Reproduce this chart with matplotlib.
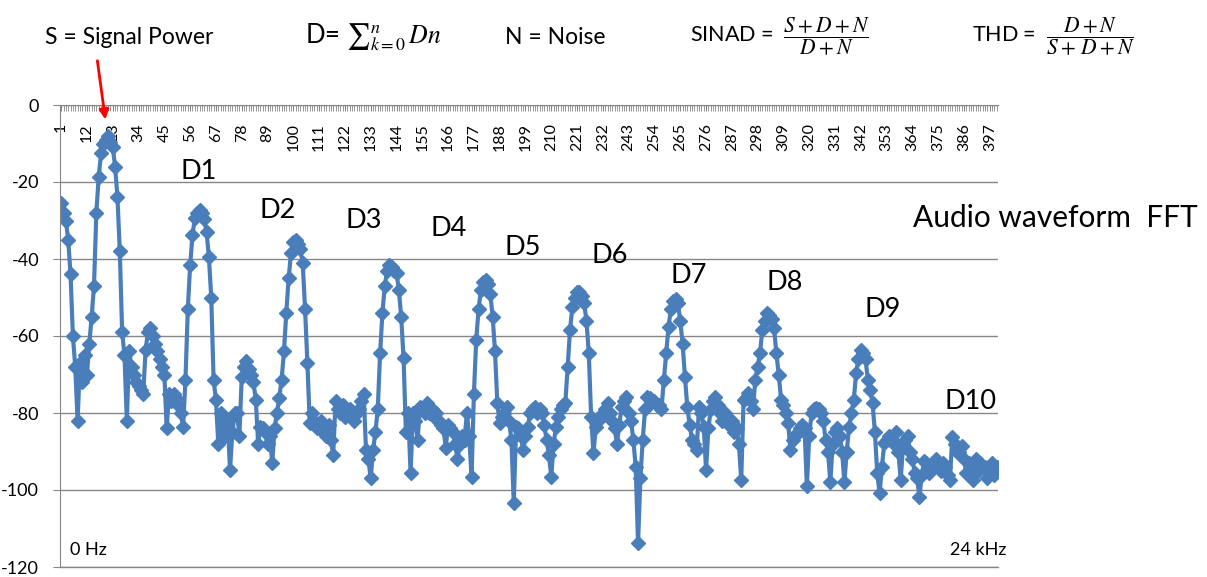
import matplotlib.pyplot as plt
from matplotlib.ticker import FixedLocator, MultipleLocator

plt.rcParams['font.family'] = ['Lato', 'DejaVu Sans']
plt.rcParams['axes.unicode_minus'] = False
plt.rcParams['mathtext.fontset'] = 'stix'

# FFT bins (category axis) and level in dB
bins = list(range(1, 401))
level_db = [
    -25.5, -28, -30, -35, -44, -60, -68, -82, -67, -72, -65, -70, -62, -55, -47, -28, -18.7, -12.5, -10, -9,          # 1-20
    -8, -9.5, -11, -16, -24, -38, -59, -65, -82, -64, -68, -70, -72, -73, -74, -75, -63.6, -59, -58, -60,            # 21-40
    -62, -64, -66, -68, -70, -84, -75, -77, -75, -76, -78, -80, -83.6, -71.4, -53, -41.6, -33.8, -29.4, -28, -27.3,  # 41-60
    -28, -29.5, -33, -39.5, -50, -71.4, -76.6, -88, -80, -84, -86, -82, -94.8, -85, -80, -80, -86, -70.6, -68, -66.5,  # 61-80
    -68.5, -70, -72, -76.6, -88, -83.6, -84, -85, -88, -86, -93, -84, -80, -76, -71.4, -64, -54, -45, -38.5, -35.5,  # 81-100
    -35, -36, -37.5, -41, -53, -67, -82.6, -80, -82, -84, -84, -82, -85, -86, -83, -87, -91, -77, -79, -80,          # 101-120
    -78, -81, -80, -79, -80, -82, -80, -79, -77, -75, -89.6, -92, -97, -89.6, -85, -79, -64.5, -54, -47, -43,        # 121-140
    -41.5, -42, -43, -43.7, -48, -55, -65.7, -85, -80, -95.6, -80, -82, -87, -78.4, -79, -80, -77.4, -80, -79, -81,  # 141-160
    -80, -82, -83, -84, -89, -83, -84, -85, -88, -92, -88, -86, -87, -80, -86, -96.6, -75, -61, -53, -48,            # 161-180
    -46, -45.5, -46.5, -49, -55, -64, -77.5, -82.6, -81, -80, -78.4, -82, -87, -103.5, -83.6, -84, -86, -89.6, -86, -83.6,  # 181-200
    -80, -79, -78.4, -80, -79, -80, -83, -87, -91, -96.6, -88, -83.6, -81, -79, -78, -77.4, -68, -58.4, -52.4, -50,  # 201-220
    -48.7, -48.5, -49.5, -51.5, -56, -64.5, -81, -90.5, -83.6, -82, -81, -80, -79, -77.5, -80, -82, -84, -88, -83, -78.4,  # 221-240
    -77, -75.8, -80, -82, -87, -94, -113.8, -97, -87, -79, -75.8, -76, -77, -77, -78, -78, -79, -71.4, -64.5, -57.6,  # 241-260
    -53, -51, -50.5, -51.5, -56, -62, -70.6, -78.4, -83, -87, -88, -89.6, -78.4, -80, -83.6, -94.8, -84, -79, -77, -75.8,  # 261-280
    -78, -80, -82, -80, -81, -83, -82, -85, -84, -88, -97.4, -76.6, -76, -74.8, -77, -79, -71.4, -68, -64.5, -58.4,  # 281-300
    -56, -54, -54.5, -55.5, -58, -64.5, -70, -76.6, -78, -80, -82.6, -89.6, -87, -86, -85, -84, -83, -84, -99, -86,  # 301-320
    -80, -79, -78.7, -79, -80, -82, -87, -90, -98, -88, -85, -84, -86, -90, -98, -90, -83.6, -80, -76.6, -69.6,      # 321-340
    -66, -63.6, -64.5, -66, -71.4, -74, -77.4, -85, -95.6, -100.8, -94, -87.8, -87, -86, -87, -88, -85, -90, -97.4, -88.6,  # 341-360
    -87, -86, -90, -92, -95.6, -97, -101.8, -96, -92.5, -93, -95.6, -94, -93, -92, -94, -95, -93, -94, -96, -97.4,   # 361-380
    -86.2, -88, -90, -90, -88.6, -92, -95.6, -93, -94, -97.4, -92, -95, -93, -94, -94, -97, -95, -93, -96, -94,      # 381-400
]
tick_bins = list(range(1, 401, 11))
y_ticks = list(range(-120, 1, 20))
harmonic_labels = ['D1', 'D2', 'D3', 'D4', 'D5', 'D6', 'D7', 'D8', 'D9', 'D10']

# label placement for the harmonic names (bin, dB)
harmonic_pos = [(59.5, -17.4), (93.3, -27.3), (130, -30.1), (166.3, -32), (198, -37),
                (234.7, -39), (268.8, -44.4), (309.4, -46.2), (351.3, -53), (388.9, -76.9)]

W, H = 1207, 577
fig = plt.figure(figsize=(W / 100, H / 100), dpi=100)
ax = fig.add_axes([60 / W, 10 / H, 938 / W, 462 / H])

blue = '#4A7EBB'
grey = '#868686'
ax.plot(bins, level_db, color=blue, lw=3, marker='D', ms=7.5, mfc=blue, mec=blue)

ax.set_xlim(0.5, 400.5)
ax.set_ylim(-120, 0)
ax.set_yticks(y_ticks)
ax.yaxis.grid(True, color=grey, lw=1)
ax.set_axisbelow(True)
ax.axhline(-120, color=grey, lw=1, clip_on=False)

# category axis crosses at 0, i.e. along the top of the plot
ax.spines['bottom'].set_position(('data', 0))
ax.spines['top'].set_visible(False)
ax.spines['right'].set_visible(False)
ax.spines['left'].set_color(grey)
ax.spines['bottom'].set_color(grey)

ax.xaxis.set_major_locator(FixedLocator(tick_bins))
ax.xaxis.set_minor_locator(MultipleLocator(1))
ax.set_xticklabels([str(b) for b in tick_bins], rotation=90)
ax.tick_params(axis='x', which='both', direction='out', length=4, color=grey, labelsize=11.5, pad=9)
ax.tick_params(axis='y', direction='out', length=5, color=grey, labelsize=13, pad=10)

for lab, (xb, yd) in zip(harmonic_labels, harmonic_pos):
    ax.text(xb, yd, lab, ha='center', va='center', fontsize=19.5)

ax.text(10 / 938, 17 / 462, '0 Hz', transform=ax.transAxes, fontsize=13, va='center', ha='left')
ax.text(890 / 938, 17 / 462, '24 kHz', transform=ax.transAxes, fontsize=13, va='center', ha='left')

fig.text(1198 / W, 1 - 218 / H, 'Audio waveform  FFT', ha='right', va='center', fontsize=21.5)

# header definitions
hy = 1 - 37 / H
fig.text(45 / W, hy, 'S = Signal Power', ha='left', va='center', fontsize=16.5)
fig.text(305 / W, hy, r'D= ${\sum}_{k=0}^{n}\,Dn$', ha='left', va='center', fontsize=18.5)
fig.text(505 / W, hy, 'N = Noise', ha='left', va='center', fontsize=16.5)
fig.text(690 / W, hy, r'SINAD =  $\dfrac{S+D+N}{D+N}$', ha='left', va='center', fontsize=15.5)
fig.text(972 / W, hy, r'THD =  $\dfrac{D+N}{S+\,D+N}$', ha='left', va='center', fontsize=15.5)

# red arrow pointing at the fundamental
ax.annotate('', xy=(20, -4.5), xycoords='data',
            xytext=(97 / W, 1 - 58 / H), textcoords='figure fraction',
            arrowprops=dict(arrowstyle='-|>', color='red', lw=2, mutation_scale=14),
            annotation_clip=False)

fig.savefig('out.png', dpi=100)
